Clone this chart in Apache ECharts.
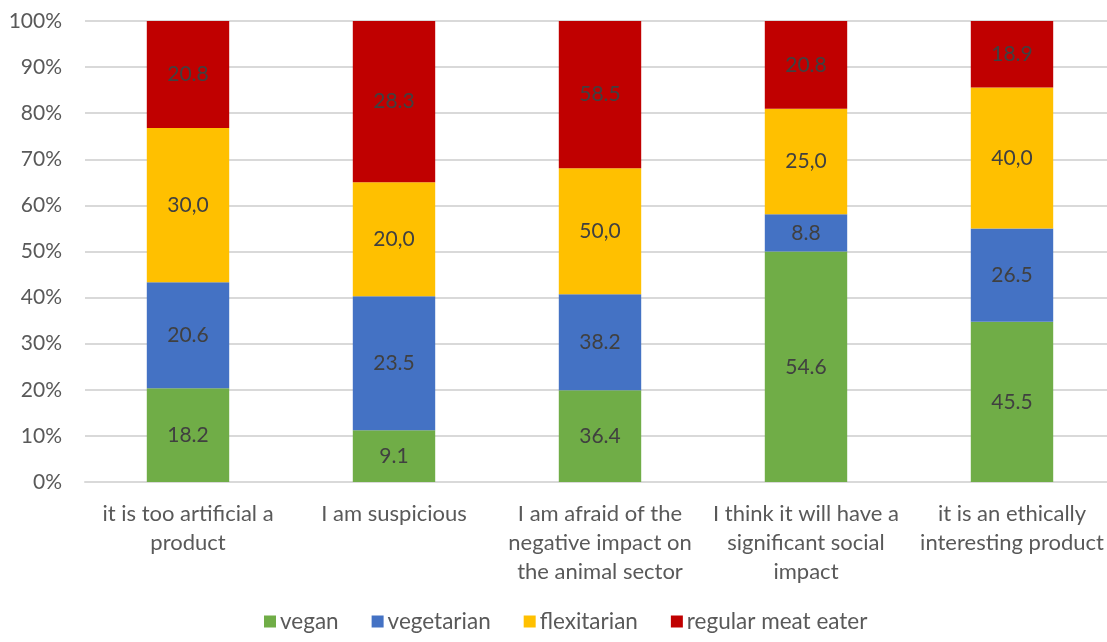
<!DOCTYPE html>
<html>
<head>
<meta charset="utf-8">
<script src="https://cdn.jsdelivr.net/npm/echarts@6/dist/echarts.min.js"></script>
<style>html,body{margin:0;padding:0;background:#fff;overflow:hidden}#c{width:1120px;height:642px}</style>
</head>
<body>
<div id="c"></div>
<script>
const categories = [
  "it is too artificial a\nproduct",
  "I am suspicious",
  "I am afraid of the\nnegative impact on\nthe animal sector",
  "I think it will have a\nsignificant social\nimpact",
  "it is an ethically\ninteresting product"
];
const vegan = [18.2, 9.1, 36.4, 54.6, 45.5];
const vegetarian = [20.6, 23.5, 38.2, 8.8, 26.5];
const flexitarian = [30.0, 20.0, 50.0, 25.0, 40.0];
const meatEater = [20.8, 28.3, 58.5, 20.8, 18.9];
const seriesNames = ["vegan", "vegetarian", "flexitarian", "regular meat eater"];
const seriesColors = ["#70AD47", "#4472C4", "#FFC000", "#C00000"];
const decimalSep = [".", ".", ",", "."];
const yTicks = [0, 10, 20, 30, 40, 50, 60, 70, 80, 90, 100];

const raw = [vegan, vegetarian, flexitarian, meatEater];
const totals = categories.map((_, i) => raw.reduce((s, arr) => s + arr[i], 0));
const FONT = "Lato";

const series = raw.map((arr, k) => ({
  name: seriesNames[k],
  type: "bar",
  stack: "total",
  barWidth: "40%",
  itemStyle: { color: seriesColors[k] },
  data: arr.map((v, i) => ({ value: v / totals[i] * 100, raw: v })),
  label: {
    show: true,
    position: "inside",
    color: "#404040",
    fontFamily: FONT,
    fontSize: 21,
    formatter: p => p.data.raw.toFixed(1).replace(".", decimalSep[k])
  }
}));

const chart = echarts.init(document.getElementById("c"), null, { renderer: "canvas" });
chart.setOption({
  animation: false,
  backgroundColor: "#fff",
  grid: { left: 85, width: 1030, top: 21, bottom: 160, containLabel: false },
  legend: {
    left: 259, bottom: 4,
    itemWidth: 12, itemHeight: 12, itemGap: 33,
    icon: "rect",
    textStyle: { color: "#595959", fontFamily: FONT, fontSize: 22.5, padding: [0, 0, 0, -1] },
    data: seriesNames
  },
  xAxis: {
    type: "category",
    data: categories,
    axisLine: { lineStyle: { color: "#d9d9d9", width: 2 } },
    axisTick: { show: false },
    axisLabel: { color: "#595959", fontFamily: FONT, fontSize: 22, lineHeight: 29, margin: 17, interval: 0 }
  },
  yAxis: {
    type: "value",
    min: yTicks[0], max: yTicks[yTicks.length - 1], interval: 10,
    axisLine: { show: false },
    axisTick: { show: false },
    splitLine: { lineStyle: { color: "#d9d9d9", width: 2 } },
    axisLabel: { color: "#595959", fontFamily: FONT, fontSize: 21, margin: 23, formatter: v => v + "%" }
  },
  series: series
});
</script>
</body>
</html>
